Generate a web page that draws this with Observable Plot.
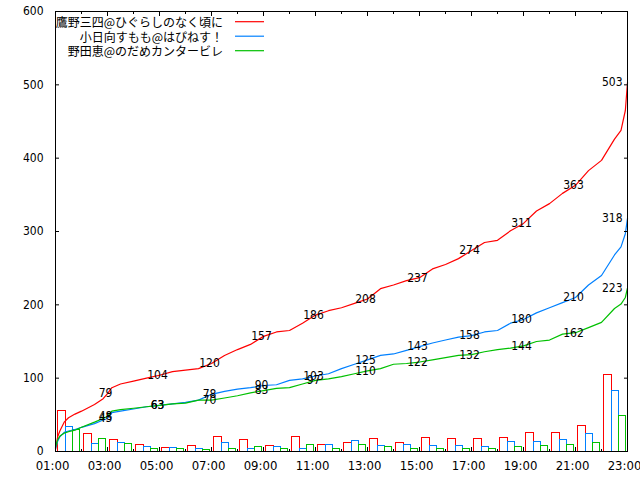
<!DOCTYPE html>
<html><head><meta charset="utf-8">
<script src="https://cdn.jsdelivr.net/npm/d3@7"></script>
<script src="https://cdn.jsdelivr.net/npm/@observablehq/plot@0.6"></script>
<style>body{margin:0;background:#fff}</style>
</head><body><div id="chart"></div>
<script>
const seriesNames = ["鷹野三四@ひぐらしのなく頃に", "小日向すもも@はぴねす！", "野田恵@のだめカンタービレ"];
const seriesColors = ["#ff0000", "#0080ff", "#00c000"];

// time in hours (01:00 .. 23:00)
const times = [1, 1.083, 1.167, 1.333, 1.5, 1.75, 2, 2.5, 2.833, 3, 3.167, 3.5, 4, 4.5, 5,
  5.5, 6, 6.5, 7, 7.5, 8, 8.5, 9, 9.5, 10, 10.5, 11, 11.5, 12, 12.5, 13, 13.5, 14, 14.5, 15,
  15.5, 16, 16.5, 17, 17.5, 18, 18.5, 19, 19.5, 20, 20.5, 21, 21.5, 22, 22.5, 22.75, 22.917, 23];

// cumulative counts
const redValues = [3, 20, 28, 40, 46, 51, 55, 64, 72, 79, 87, 92, 96, 100, 104,
  109, 111, 113, 120, 131, 139, 146, 157, 163, 165, 175, 186, 192, 196, 202, 208, 222, 227, 233, 237,
  249, 255, 263, 274, 285, 288, 301, 311, 328, 338, 352, 363, 383, 397, 426, 438, 465, 503];
const blueValues = [4, 14, 20, 26, 28, 30, 33, 38, 43, 45, 53, 55, 58, 61, 63,
  65, 67, 70, 78, 82, 85, 87, 90, 91, 97, 99, 103, 106, 113, 119, 125, 131, 133, 138, 143,
  148, 152, 156, 158, 163, 165, 175, 180, 189, 196, 203, 210, 227, 240, 268, 279, 297, 318];
const greenValues = [6, 16, 21, 25, 27, 29, 33, 40, 45, 48, 55, 57, 59, 61, 63,
  65, 66, 70, 70, 73, 76, 80, 83, 86, 87, 92, 97, 99, 102, 106, 110, 113, 119, 120, 122,
  125, 128, 131, 132, 136, 139, 141, 144, 150, 152, 160, 162, 169, 176, 195, 201, 210, 223];

// hourly counts (bar for hour h covers h:00 - h+1:00)
const barHours = [1, 2, 3, 4, 5, 6, 7, 8, 9, 10, 11, 12, 13, 14, 15, 16, 17, 18, 19, 20, 21, 22];
const redHourly = [55, 24, 16, 9, 5, 8, 20, 16, 8, 20, 9, 12, 17, 11, 18, 17, 17, 18, 25, 25, 35, 104];
const blueHourly = [34, 10, 11, 6, 5, 4, 12, 4, 6, 4, 9, 14, 8, 9, 7, 7, 6, 13, 13, 16, 24, 83];
const greenHourly = [30, 17, 10, 4, 4, 2, 4, 6, 3, 9, 3, 9, 6, 4, 4, 4, 4, 6, 7, 9, 12, 48];

const yTicks = [0, 100, 200, 300, 400, 500, 600];
const xMajorTicks = [1, 3, 5, 7, 9, 11, 13, 15, 17, 19, 21, 23];
const xMinorTicks = [2, 4, 6, 8, 10, 12, 14, 16, 18, 20, 22];
const fmtHour = h => String(h).padStart(2, "0") + ":00";

const seriesValues = [redValues, blueValues, greenValues];
const seriesHourly = [redHourly, blueHourly, greenHourly];

const NUM_FONT = '"Liberation Sans Narrow", "DejaVu Sans Condensed", "Liberation Sans", sans-serif';
const CJK_FONT = '"Noto Sans CJK JP", "Noto Sans", sans-serif';

const marks = [];

// bars
seriesHourly.forEach((vals, k) => {
  const data = barHours.map((h, i) => ({h, v: vals[i]}));
  marks.push(Plot.rectY(data, {
    x1: d => d.h + 0.115 + k * 0.27,
    x2: d => d.h + 0.115 + (k + 1) * 0.27,
    y1: 0, y2: "v",
    fill: "none", stroke: seriesColors[k], strokeWidth: 1, shapeRendering: "crispEdges"
  }));
});

// lines
seriesValues.forEach((vals, k) => {
  const data = times.map((t, i) => ({t, v: vals[i]}));
  marks.push(Plot.line(data, {x: "t", y: "v", stroke: seriesColors[k], strokeWidth: 1.2}));
});

// value labels at odd hours
seriesValues.forEach((vals, k) => {
  const data = times.map((t, i) => ({t, v: vals[i]}))
    .filter(d => Number.isInteger(d.t) && d.t % 2 === 1 && d.t >= 3);
  marks.push(Plot.text(data.filter(d => d.t < 23), {
    x: "t", y: "v", text: d => String(d.v), fill: "black", fontSize: 12, dx: -2, fontFamily: NUM_FONT
  }));
  marks.push(Plot.text(data.filter(d => d.t === 23), {
    x: "t", y: "v", text: d => String(d.v), fill: "black", fontSize: 12, dx: -5, textAnchor: "end", fontFamily: NUM_FONT
  }));
});

marks.push(Plot.frame({stroke: "black", shapeRendering: "crispEdges"}));

// axes: inward ticks, mirrored
marks.push(Plot.axisY(yTicks, {anchor: "left", tickSize: -4, tickPadding: 16, fontSize: 12, label: null, fontFamily: NUM_FONT}));
marks.push(Plot.axisY(yTicks, {anchor: "right", tickSize: -4, fill: "none", label: null}));
marks.push(Plot.axisX(xMajorTicks, {anchor: "bottom", tickSize: -4, fill: "none", label: null}));
marks.push(Plot.axisX(xMinorTicks, {anchor: "bottom", tickSize: -2, fill: "none", label: null}));
marks.push(Plot.axisX(xMajorTicks, {anchor: "top", tickSize: -4, fill: "none", label: null}));
marks.push(Plot.axisX(xMinorTicks, {anchor: "top", tickSize: -2, fill: "none", label: null}));
marks.push(Plot.axisX(xMajorTicks, {anchor: "bottom", tickSize: 0, tickPadding: 9, tickFormat: fmtHour, fontSize: 13, dx: -3, label: null, fontFamily: NUM_FONT}));

// legend (inside top-left)
marks.push(() => {
  const g = d3.create("svg:g").attr("font-family", CJK_FONT).attr("font-size", 12);
  seriesNames.forEach((name, i) => {
    const y = 21.7 + i * 14.5;
    g.append("text").attr("x", 223).attr("y", y).attr("text-anchor", "end")
      .attr("dominant-baseline", "central").attr("fill", "black").text(name);
    g.append("line").attr("x1", 235).attr("x2", 264).attr("y1", y).attr("y2", y)
      .attr("stroke", seriesColors[i]).attr("stroke-width", 1.2);
  });
  return g.node();
});

const plot = Plot.plot({
  width: 640, height: 480,
  marginLeft: 55, marginRight: 13, marginTop: 11, marginBottom: 29,
  style: {background: "white", color: "black", fontFamily: NUM_FONT, fontSize: "12px"},
  x: {type: "linear", domain: [1, 23]},
  y: {domain: [0, 600]},
  marks
});
document.getElementById("chart").appendChild(plot);
</script>
</body></html>
